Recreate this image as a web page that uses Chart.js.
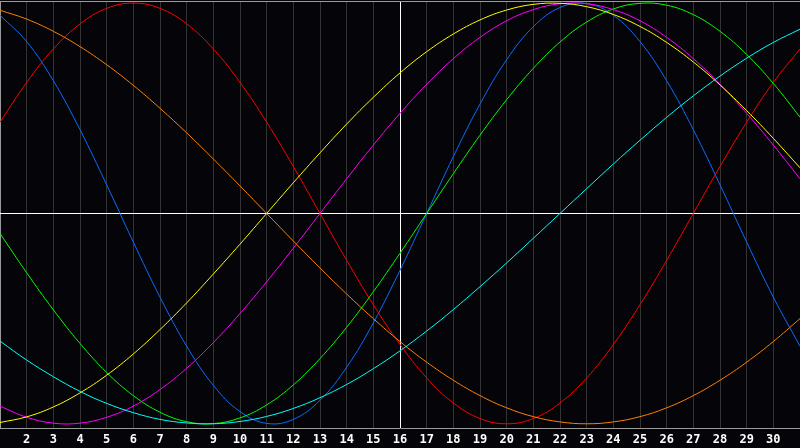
<!DOCTYPE html>
<html>
<head>
<meta charset="utf-8">
<script src="https://cdn.jsdelivr.net/npm/chart.js@4"></script>
<style>
  html, body { margin: 0; padding: 0; background: #050408; }
  canvas { display: block; }
</style>
</head>
<body>
<canvas id="grafico" width="800" height="448"></canvas>
<script>
// days of the month on the x axis
const dias = [1, 2, 3, 4, 5, 6, 7, 8, 9, 10, 11, 12, 13, 14, 15, 16,
  17, 18, 19, 20, 21, 22, 23, 24, 25, 26, 27, 28, 29, 30, 31];

// values in percent, one per day
const azul = [94.2, 81.7, 63.1, 39.8, 13.6, -13.6, -39.8, -63.1, -81.7, -94.2, -99.8, -97.9, -88.8, -73.1, -52.0, -27.0,
  0, 27.0, 52.0, 73.1, 88.8, 97.9, 99.8, 94.2, 81.7, 63.1, 39.8, 13.6, -13.6, -39.8, -63.1];
const rojo = [43.4, 62.3, 78.2, 90.1, 97.5, 100, 97.5, 90.1, 78.2, 62.3, 43.4, 22.3, 0, -22.3, -43.4, -62.3,
  -78.2, -90.1, -97.5, -100, -97.5, -90.1, -78.2, -62.3, -43.4, -22.3, 0, 22.3, 43.4, 62.3, 78.2];
const verde = [-9.5, -28.2, -45.8, -61.8, -75.6, -86.6, -94.5, -99.0, -99.9, -97.2, -91.0, -81.5, -69.0, -54.1, -37.2, -18.9,
  0, 18.9, 37.2, 54.1, 69.0, 81.5, 91.0, 97.2, 99.9, 99.0, 94.5, 86.6, 75.6, 61.8, 45.8];
const magenta = [-91.6, -96.9, -99.7, -99.7, -96.9, -91.6, -83.7, -73.6, -61.4, -47.6, -32.5, -16.5, 0, 16.5, 32.5, 47.6,
  61.4, 73.6, 83.7, 91.6, 96.9, 99.7, 99.7, 96.9, 91.6, 83.7, 73.6, 61.4, 47.6, 32.5, 16.5];
const amarillo = [-99.4, -96.7, -92.0, -85.3, -76.9, -66.8, -55.2, -42.5, -28.8, -14.6, 0, 14.6, 28.8, 42.5, 55.2, 66.8,
  76.9, 85.3, 92.0, 96.7, 99.4, 99.9, 98.3, 94.6, 88.9, 81.3, 72.0, 61.1, 48.9, 35.7, 21.7];
const naranja = [96.6, 92.4, 86.6, 79.3, 70.7, 60.9, 50, 38.3, 25.9, 13.1, 0, -13.1, -25.9, -38.3, -50, -60.9,
  -70.7, -79.3, -86.6, -92.4, -96.6, -99.1, -100, -99.1, -96.6, -92.4, -86.6, -79.3, -70.7, -60.9, -50];
const cian = [-60.7, -69.7, -77.6, -84.6, -90.3, -94.7, -97.9, -99.6, -100, -98.9, -96.5, -92.7, -87.6, -81.3, -73.8, -65.3,
  -55.9, -45.7, -34.8, -23.5, -11.8, 0, 11.8, 23.5, 34.8, 45.7, 55.9, 65.3, 73.8, 81.3, 87.6];

const hoy = 16;

const serie = (valores, color) => ({
  data: dias.map((d, i) => ({ x: d, y: valores[i] })),
  borderColor: color,
  borderWidth: 1,
  pointRadius: 0,
  tension: 0.4,
  fill: false
});

const fondo = {
  id: 'fondo',
  beforeDraw(chart) {
    const ctx = chart.ctx;
    ctx.save();
    ctx.fillStyle = '#050408';
    ctx.fillRect(0, 0, chart.width, chart.height);
    ctx.restore();
  }
};

new Chart(document.getElementById('grafico').getContext('2d'), {
  type: 'line',
  data: {
    datasets: [
      serie(cian, '#00ffff'),
      serie(naranja, '#ff8000'),
      serie(amarillo, '#ffff00'),
      serie(magenta, '#ff00ff'),
      serie(verde, '#00ff00'),
      serie(rojo, '#ff0000'),
      serie(azul, '#0a6cff')
    ]
  },
  options: {
    responsive: false,
    devicePixelRatio: 1,
    animation: false,
    layout: { autoPadding: false, padding: { top: 1, left: 0, right: 0, bottom: 0 } },
    plugins: {
      legend: { display: false },
      tooltip: { enabled: false }
    },
    scales: {
      x: {
        type: 'linear',
        min: 1,
        max: 31,
        afterFit: (scale) => { scale.height = 20; scale.paddingLeft = 0; scale.paddingRight = 0; },
        ticks: {
          stepSize: 1,
          autoSkip: false,
          maxRotation: 0,
          padding: 5,
          color: '#ffffff',
          font: { family: 'DejaVu Sans Mono', size: 12, weight: 'bold' },
          callback: (v) => (v > 1 && v < 31 ? String(v) : '')
        },
        grid: {
          drawTicks: false,
          lineWidth: 1,
          color: (c) => {
            const v = c.tick && c.tick.value;
            if (v === hoy) return '#ffffff';
            if (v === 1) return '#9a9a9a';
            if (v === 31) return 'rgba(0,0,0,0)';
            return '#333333';
          }
        },
        border: { display: true, color: '#9a9a9a', width: 1 }
      },
      y: {
        min: -102,
        max: 101,
        afterBuildTicks: (scale) => { scale.ticks = [{ value: 0 }, { value: 101 }]; },
        afterFit: (scale) => { scale.width = 0; },
        ticks: { display: false },
        grid: {
          drawTicks: false,
          lineWidth: 1,
          color: (c) => (c.tick && c.tick.value === 0 ? '#ffffff' : '#9a9a9a')
        },
        border: { display: false }
      }
    }
  },
  plugins: [fondo]
});
</script>
</body>
</html>
